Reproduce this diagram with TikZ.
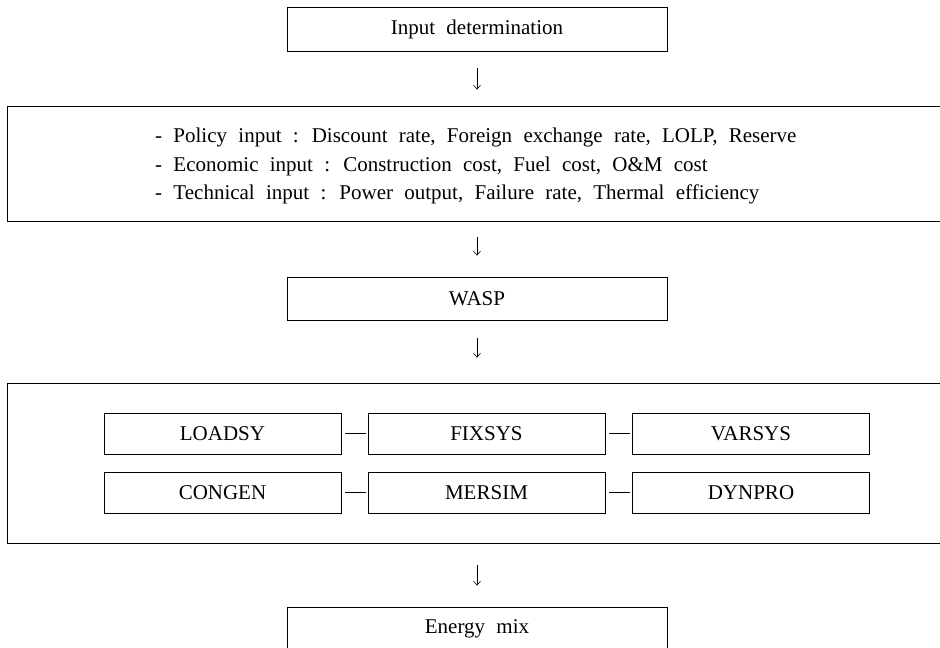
\documentclass[tikz,border=0pt]{standalone}
\usepackage{fontspec}
\setmainfont{Liberation Serif}[WordSpace=2.15]
\usetikzlibrary{arrows.meta}
\begin{document}
\begin{tikzpicture}[x=1pt,y=-1pt,
  font=\fontsize{21}{28.5}\selectfont,
  box/.style={draw=black, line width=0.8pt, minimum width=380pt, minimum height=44pt, inner sep=0pt},
  bigbox/.style={draw=black, line width=0.8pt, inner sep=0pt, minimum width=936pt},
  prog/.style={draw=black, line width=0.8pt, minimum width=237pt, minimum height=41pt, inner sep=0pt},
  flow/.style={line width=0.6pt, -{Straight Barb[length=4pt,width=7pt]}},
  link/.style={line width=0.6pt}]
\useasboundingbox (0,0) rectangle (940,648);
\clip (0,0) rectangle (940,648);
% boxes
\node[box] (input) at (477,29) {Input determination};
\node[bigbox, minimum height=115pt] (inputs) at (475,163.5) {};
\node[anchor=west, align=left, inner sep=0pt] (inputtext) at (155,166) {%
- Policy input : Discount rate, Foreign exchange rate, LOLP, Reserve\\
- Economic input : Construction cost, Fuel cost, O\&M cost\\
- Technical input : Power output, Failure rate, Thermal efficiency};
\node[box, minimum height=43pt] (wasp) at (477,298.5) {WASP};
\node[bigbox, minimum height=160pt] (modules) at (475,463) {};
\node[prog] (loadsy) at (222.5,433.5) {LOADSY};
\node[prog] (fixsys) at (486.5,433.5) {FIXSYS};
\node[prog] (varsys) at (751,433.5) {VARSYS};
\node[prog] (congen) at (222.5,492.5) {CONGEN};
\node[prog] (mersim) at (486.5,492.5) {MERSIM};
\node[prog] (dynpro) at (751,492.5) {DYNPRO};
\node[box] (energy) at (477,629) {Energy mix};
% connectors
\draw[flow, shorten <=17pt, shorten >=16pt] (input.south) -- (input.south |- inputs.north);
\draw[flow, shorten <=16pt, shorten >=21pt] (wasp.north |- inputs.south) -- (wasp.north);
\draw[flow, shorten <=18pt, shorten >=25pt] (wasp.south) -- (wasp.south |- modules.north);
\draw[flow, shorten <=22pt, shorten >=21pt] (energy.north |- modules.south) -- (energy.north);
\draw[link, shorten <=4pt, shorten >=2pt] (loadsy.east) -- (fixsys.west);
\draw[link, shorten <=4pt, shorten >=2pt] (fixsys.east) -- (varsys.west);
\draw[link, shorten <=4pt, shorten >=2pt] (congen.east) -- (mersim.west);
\draw[link, shorten <=4pt, shorten >=2pt] (mersim.east) -- (dynpro.west);
\end{tikzpicture}
\end{document}
